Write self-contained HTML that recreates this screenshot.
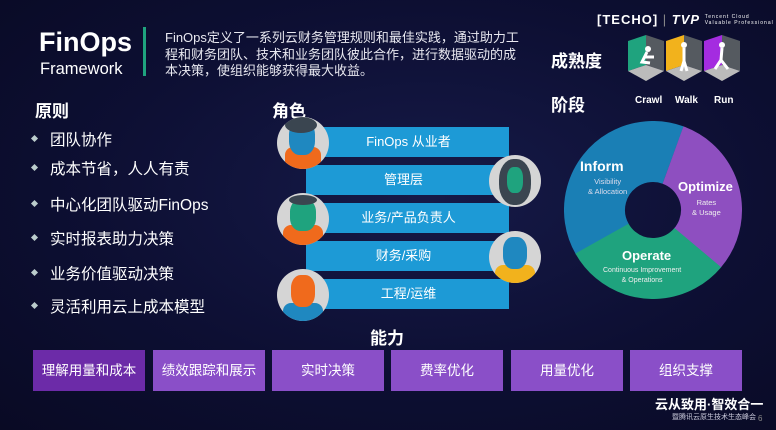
<!DOCTYPE html>
<html><head><meta charset="utf-8"><style>
*{margin:0;padding:0;box-sizing:border-box}
body{width:776px;height:430px;overflow:hidden;background:radial-gradient(ellipse at 55% 45%,#161a48 0%,#0d0f33 55%,#090a24 100%);font-family:"Liberation Sans","Noto Sans CJK SC",sans-serif;color:#fff;position:relative}
.a{position:absolute;white-space:nowrap}
.h{font-weight:bold;font-size:17px}
.li{font-size:15.5px;left:50px}
.bu{left:32px;width:5px;height:5px;background:#bcc;transform:rotate(45deg)}
.bar{position:absolute;left:308px;width:201px;height:30px;background:#1d9ad6;font-size:13px;text-align:center;line-height:30px}
.cir{position:absolute;width:52px;height:52px;border-radius:50%;background:#d5d5d5;overflow:hidden}
.cap{position:absolute;top:350px;height:41px;width:112px;background:#8a4fc8;font-size:13.5px;text-align:center;line-height:41px}
</style></head><body>
<div class="a" style="left:39px;top:27px;font-size:27px;font-weight:bold">FinOps</div>
<div class="a" style="left:40px;top:60px;font-size:16.5px">Framework</div>
<div class="a" style="left:143px;top:27px;width:3px;height:49px;background:#1fa37e"></div>
<div class="a" style="left:165px;top:30px;font-size:13px;line-height:16.5px;color:#e8e8f0">FinOps定义了一系列云财务管理规则和最佳实践，通过助力工<br>程和财务团队、技术和业务团队彼此合作，进行数据驱动的成<br>本决策，使组织能够获得最大收益。</div>
<div class="a" style="left:597px;top:12px;font-size:13px;font-weight:bold;letter-spacing:1px">[TECHO] <span style="color:#888;font-weight:normal">|</span> <i>TVP</i> <span style="font-size:5px;font-weight:normal;display:inline-block;line-height:6px">Tencent Cloud<br>Valuable Professional</span></div>
<div class="a h" style="left:551px;top:47px">成熟度</div>
<div class="a h" style="left:551px;top:91px">阶段</div>
<svg class="a" style="left:626px;top:33px" width="120" height="52">
<g><polygon points="2,8 20,2 20,32 2,38" fill="#1fa37e"/><polygon points="20,2 38,8 38,38 20,32" fill="#555a60"/><polygon points="2,38 20,32 38,38 20,48" fill="#bbb"/><circle cx="22" cy="16" r="3" fill="#fff"/><path d="M21,19 L16,29 L24,30 M19,24 L28,24" stroke="#fff" stroke-width="3" fill="none"/></g>
<g transform="translate(38,0)"><polygon points="2,8 20,2 20,32 2,38" fill="#f2b21c"/><polygon points="20,2 38,8 38,38 20,32" fill="#555a60"/><polygon points="2,38 20,32 38,38 20,48" fill="#bbb"/><circle cx="20" cy="12" r="3" fill="#fff"/><path d="M20,15 L20,28 L17,38 M20,28 L23,38" stroke="#fff" stroke-width="3" fill="none"/></g>
<g transform="translate(76,0)"><polygon points="2,8 20,2 20,32 2,38" fill="#a42ce0"/><polygon points="20,2 38,8 38,38 20,32" fill="#555a60"/><polygon points="2,38 20,32 38,38 20,48" fill="#bbb"/><circle cx="20" cy="12" r="3" fill="#fff"/><path d="M20,15 L19,27 L13,36 M19,27 L26,36" stroke="#fff" stroke-width="3" fill="none"/></g>
</svg>
<div class="a" style="left:635px;top:95px;font-size:10px;font-weight:bold">Crawl</div>
<div class="a" style="left:675px;top:95px;font-size:10px;font-weight:bold">Walk</div>
<div class="a" style="left:714px;top:95px;font-size:10px;font-weight:bold">Run</div>

<div class="a h" style="left:35px;top:97px">原则</div>
<div class="a bu" style="top:136px"></div><div class="a li" style="top:128px">团队协作</div>
<div class="a bu" style="top:165px"></div><div class="a li" style="top:157px">成本节省，人人有责</div>
<div class="a bu" style="top:201px"></div><div class="a li" style="top:193px">中心化团队驱动FinOps</div>
<div class="a bu" style="top:235px"></div><div class="a li" style="top:227px">实时报表助力决策</div>
<div class="a bu" style="top:270px"></div><div class="a li" style="top:262px">业务价值驱动决策</div>
<div class="a bu" style="top:303px"></div><div class="a li" style="top:295px">灵活利用云上成本模型</div>

<div class="a h" style="left:272px;top:97px">角色</div>
<div class="bar" style="top:127px">FinOps 从业者</div>
<div class="bar" style="top:165px;left:306px;width:195px">管理层</div>
<div class="bar" style="top:203px">业务/产品负责人</div>
<div class="bar" style="top:241px;left:306px;width:195px">财务/采购</div>
<div class="bar" style="top:279px">工程/运维</div>
<div class="cir" style="left:277px;top:117px"><div style="position:absolute;left:8px;top:30px;width:36px;height:30px;background:#f06a1c;border-radius:8px"></div><div style="position:absolute;left:12px;top:4px;width:26px;height:34px;background:#1f88c0;border-radius:40%"></div><div style="position:absolute;left:8px;top:0;width:32px;height:16px;background:#3a4550;border-radius:50%"></div></div>
<div class="cir" style="left:489px;top:155px"><div style="position:absolute;left:10px;top:4px;width:32px;height:46px;background:#3a4550;border-radius:45%"></div><div style="position:absolute;left:18px;top:12px;width:16px;height:26px;background:#1fa37e;border-radius:40%"></div></div>
<div class="cir" style="left:277px;top:193px"><div style="position:absolute;left:6px;top:32px;width:40px;height:30px;background:#f06a1c;border-radius:8px"></div><div style="position:absolute;left:13px;top:6px;width:26px;height:32px;background:#1fa37e;border-radius:40%"></div><div style="position:absolute;left:12px;top:2px;width:28px;height:10px;background:#3a4550;border-radius:50%"></div></div>
<div class="cir" style="left:489px;top:231px"><div style="position:absolute;left:6px;top:34px;width:40px;height:30px;background:#f2b21c;border-radius:8px"></div><div style="position:absolute;left:14px;top:6px;width:24px;height:32px;background:#1f88c0;border-radius:40%"></div></div>
<div class="cir" style="left:277px;top:269px"><div style="position:absolute;left:6px;top:34px;width:40px;height:30px;background:#1f88c0;border-radius:8px"></div><div style="position:absolute;left:14px;top:6px;width:24px;height:32px;background:#f06a1c;border-radius:40%"></div></div>

<svg class="a" style="left:564px;top:121px" width="178" height="178">
<g transform="translate(89,89)" fill="none" stroke-width="61">
<circle r="58.5" stroke="#1a7fb5" stroke-dasharray="143 400" transform="rotate(150)"/>
<circle r="58.5" stroke="#8e4fc0" stroke-dasharray="113 400" transform="rotate(-70)"/>
<circle r="58.5" stroke="#1fa37e" stroke-dasharray="113 400" transform="rotate(40)"/>
</g></svg>
<div class="a" style="left:580px;top:158px;font-size:14px;font-weight:bold">Inform</div>
<div class="a" style="left:588px;top:177px;font-size:7.5px;text-align:center;line-height:10px;color:#dde">Visibility<br>&amp; Allocation</div>
<div class="a" style="left:678px;top:179px;font-size:13px;font-weight:bold">Optimize</div>
<div class="a" style="left:692px;top:198px;font-size:7.5px;text-align:center;line-height:10px;color:#eee">Rates<br>&amp; Usage</div>
<div class="a" style="left:622px;top:248px;font-size:13px;font-weight:bold">Operate</div>
<div class="a" style="left:603px;top:266px;font-size:7px;text-align:center;line-height:10px;color:#eee">Continuous Improvement<br>&amp; Operations</div>

<div class="a h" style="left:370px;top:324px">能力</div>
<div class="cap" style="left:33px;background:#6c2ba8">理解用量和成本</div>
<div class="cap" style="left:153px">绩效跟踪和展示</div>
<div class="cap" style="left:272px">实时决策</div>
<div class="cap" style="left:391px">费率优化</div>
<div class="cap" style="left:511px">用量优化</div>
<div class="cap" style="left:630px">组织支撑</div>
<div class="a" style="left:655px;top:394px;font-size:13px;font-weight:bold">云从致用·智效合一</div>
<div class="a" style="left:672px;top:412px;font-size:7px;color:#ccd">暨腾讯云原生技术生态峰会</div>
<div class="a" style="left:758px;top:414px;font-size:8px;color:#888">6</div>
</body></html>
